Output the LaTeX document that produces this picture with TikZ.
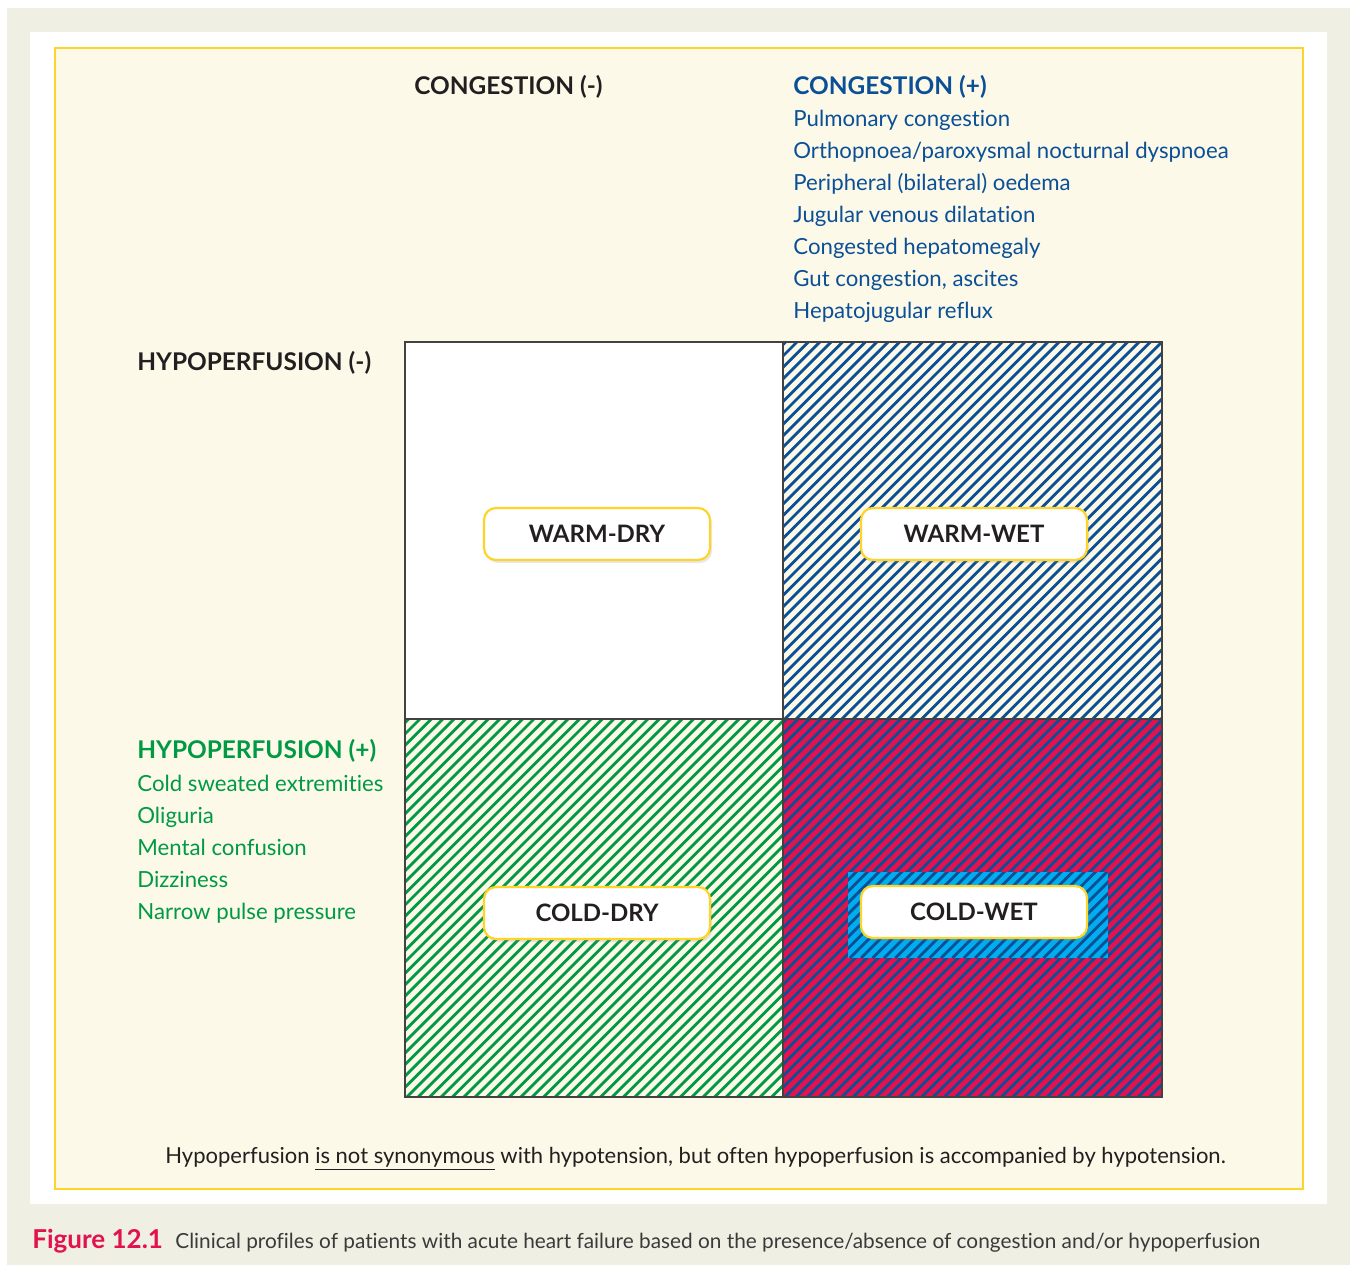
\documentclass[tikz,border=0pt]{standalone}
\usepackage{fontspec}
\setmainfont{Lato}[Ligatures={NoCommon}]
\usetikzlibrary{shadows}
\definecolor{frameg}{HTML}{EFEFE3}
\definecolor{cream}{HTML}{FCF9E9}
\definecolor{gold}{HTML}{FFD42A}
\definecolor{ink}{HTML}{231F20}
\definecolor{cblue}{HTML}{0B5096}
\definecolor{cgreen}{HTML}{009A44}
\definecolor{cred}{HTML}{E2124F}
\definecolor{ccyan}{HTML}{00AEEF}
\definecolor{capgrey}{HTML}{3A3A3A}
\newcommand\stripefill[5]{%
  \begin{scope}
    \clip (#1,#2) rectangle (#3,#4);
    \foreach \k in {0,...,75}{\draw[#5, line width=1.4pt] ({#1-420+\k*11.4},#4) -- ++(500,-500);}
  \end{scope}}
\tikzset{
  head/.style={anchor=base west, font=\fontsize{12.2}{14}\selectfont\bfseries, inner sep=0pt},
  item/.style={anchor=base west, font=\fontsize{11.1}{14}\selectfont, inner sep=0pt},
  tag/.style={draw=gold, line width=1.1pt, fill=white, rounded corners=6pt,
     minimum width=113pt, minimum height=26pt, inner sep=0pt,
     font=\fontsize{12}{14}\selectfont\bfseries, text=ink,
     drop shadow={shadow xshift=1pt, shadow yshift=-1.5pt, opacity=0.18}},
}
\begin{document}
\begin{tikzpicture}[x={(0.5pt,0)}, y={(0,-0.5pt)}]
\useasboundingbox (0,0) rectangle (1350,1265);
\fill[white] (0,0) rectangle (1350,1265);
\fill[frameg] (7,8) rectangle (1350,1265);
\fill[white] (30,32) rectangle (1327,1204);
\draw[gold, fill=cream, line width=1pt] (55,48) rectangle (1303,1189);
% quadrants
\fill[white] (405,342) rectangle (783,719);
\fill[cream] (783,342) rectangle (1162,719);
\stripefill{783}{342}{1162}{719}{cblue}
\fill[cream] (405,719) rectangle (783,1097);
\stripefill{405}{719}{783}{1097}{cgreen}
\fill[cred] (783,719) rectangle (1162,1097);
\stripefill{783}{719}{1162}{1097}{cblue}
\fill[ccyan] (848,872) rectangle (1108,958);
\stripefill{848}{872}{1108}{958}{cblue}
\draw[ink!85, line width=1pt] (405,342) rectangle (1162,1097);
\draw[ink!85, line width=1pt] (783,342) -- (783,1097);
\draw[ink!85, line width=1pt] (405,719) -- (1162,719);
% tags
\node[tag] (wd) at (597,534) {WARM-DRY};
\node[tag] (ww) at (974,534) {WARM-WET};
\node[tag] (cd) at (597,913) {COLD-DRY};
\node[tag] (cw) at (974,912) {COLD-WET};
% headers
\node[head, text=ink] (cneg) at (414,94) {CONGESTION (-)};
\node[head, text=cblue] (cpos) at (793,94) {CONGESTION (+)};
\node[item, text=cblue] (c1) at (793,126) {Pulmonary congestion};
\node[item, text=cblue] (c2) at (793,158) {Orthopnoea/paroxysmal nocturnal dyspnoea};
\node[item, text=cblue] (c3) at (793,190) {Peripheral (bilateral) oedema};
\node[item, text=cblue] (c4) at (793,222) {Jugular venous dilatation};
\node[item, text=cblue] (c5) at (793,254) {Congested hepatomegaly};
\node[item, text=cblue] (c6) at (793,286) {Gut congestion, ascites};
\node[item, text=cblue] (c7) at (793,318) {Hepatojugular reflux};
\node[head, text=ink] (hneg) at (137,370) {HYPOPERFUSION (-)};
\node[head, text=cgreen] (hpos) at (137,758) {HYPOPERFUSION (+)};
\node[item, text=cgreen] (h1) at (137,791) {Cold sweated extremities};
\node[item, text=cgreen] (h2) at (137,823) {Oliguria};
\node[item, text=cgreen] (h3) at (137,855) {Mental confusion};
\node[item, text=cgreen] (h4) at (137,887) {Dizziness};
\node[item, text=cgreen] (h5) at (137,919) {Narrow pulse pressure};
% note
\node[anchor=base west, inner sep=0pt, font=\fontsize{11}{14}\selectfont, text=ink] (note) at (165,1163) {Hypoperfusion \underline{is not synonymous} with hypotension, but often hypoperfusion is accompanied by hypotension.};
% caption
\node[anchor=base west, inner sep=0pt, font=\fontsize{13}{15}\selectfont\bfseries, text=cred] (fig) at (32,1248) {Figure 12.1};
\node[anchor=base west, inner sep=0pt, font=\fontsize{10.4}{13}\selectfont, text=capgrey] (cap) at (175,1248) {Clinical profiles of patients with acute heart failure based on the presence/absence of congestion and/or hypoperfusion};
\end{tikzpicture}
\end{document}
